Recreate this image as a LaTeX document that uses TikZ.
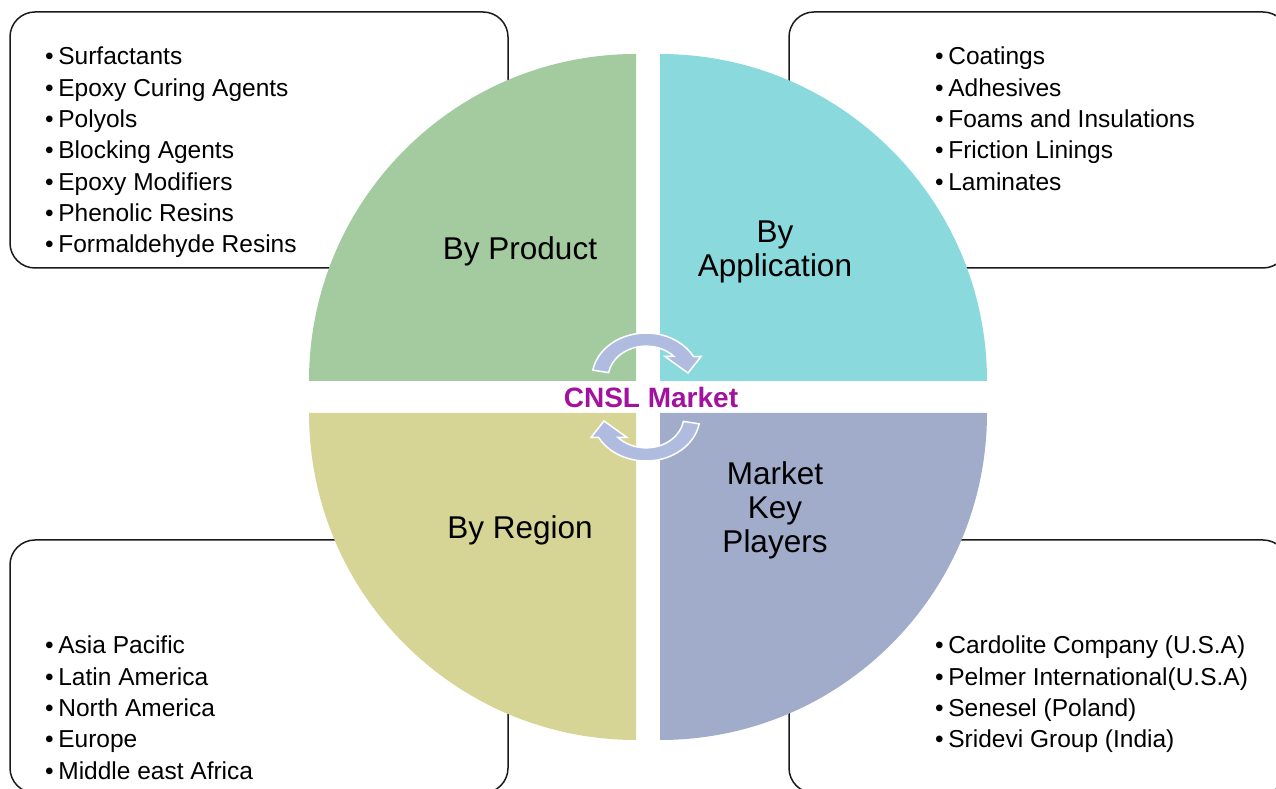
\documentclass[tikz,border=0pt]{standalone}
\usepackage{fontspec}
\setmainfont{Liberation Sans}
\definecolor{qgreen}{HTML}{A3CB9F}
\definecolor{qcyan}{HTML}{89D9DD}
\definecolor{qolive}{HTML}{D7D596}
\definecolor{qblue}{HTML}{A1ACCB}
\definecolor{arrowblue}{HTML}{B0BBE0}
\definecolor{cnsl}{HTML}{A2129F}
\definecolor{boxline}{HTML}{1A1A1A}
\newcommand\itm{•\hspace{4.6pt}}
\begin{document}
\begin{tikzpicture}[x=1pt,y=1pt,
  listbox/.style={draw=boxline, line width=1.5pt, fill=white, rounded corners=25pt},
  listtext/.style={anchor=north west, inner sep=0pt, align=left, font=\fontsize{24.5}{31.3}\selectfont},
  quadlabel/.style={inner sep=0pt, align=center, font=\fontsize{31.5}{34}\selectfont},
  cyclearrow/.style={fill=arrowblue, draw=white, line width=1.5pt}]
\useasboundingbox (0,0) rectangle (1276,789);
\clip (0,0) rectangle (1276,789);
% list boxes
\draw[listbox] (10,521) rectangle (508,777);
\draw[listbox] (789,521) rectangle (1288,777);
\draw[listbox] (10,-4) rectangle (508,249);
\draw[listbox] (789,-4) rectangle (1288,249);
% quadrants
\fill[qgreen] (636,408) -- (309,408) arc[start angle=180, end angle=90, radius=327] -- cycle;
\fill[qcyan] (660,408) -- (660,735) arc[start angle=90, end angle=0, radius=327] -- cycle;
\fill[qolive] (636,376) -- (309,376) arc[start angle=180, end angle=270, radius=327] -- cycle;
\fill[qblue] (660,376) -- (987,376) arc[start angle=0, end angle=-90, radius=327] -- cycle;
% cycle arrows
\begin{scope}[shift={(646,411)}]
\path[cyclearrow] (170:54 and 45) arc[start angle=170, end angle=28.5, x radius=54, y radius=45]
  -- (55,21.5) -- (42,5) -- (19,21.5) -- (28,21.5)
  arc[start angle=42.6, end angle=170, x radius=38, y radius=32] -- cycle;
\end{scope}
\begin{scope}[shift={(646,373)}, rotate=180]
\path[cyclearrow] (170:54 and 45) arc[start angle=170, end angle=28.5, x radius=54, y radius=45]
  -- (55,21.5) -- (42,5) -- (19,21.5) -- (28,21.5)
  arc[start angle=42.6, end angle=170, x radius=38, y radius=32] -- cycle;
\end{scope}
% labels
\node[quadlabel] (product) at (520,538) {By Product};
\node[quadlabel] (application) at (775,537) {By\\Application};
\node[quadlabel] (region) at (520,259) {By Region};
\node[quadlabel] (players) at (775,279) {Market\\Key\\Players};
\node[inner sep=0pt, text=cnsl, font=\fontsize{28}{30}\selectfont\bfseries] (center) at (651,392) {CNSL Market};
% lists
\node[listtext] (prodlist) at (45,742) {\itm Surfactants\\\itm Epoxy Curing Agents\\\itm Polyols\\\itm Blocking Agents\\\itm Epoxy Modifiers\\\itm Phenolic Resins\\\itm Formaldehyde Resins};
\node[listtext] (applist) at (935,742) {\itm Coatings\\\itm Adhesives\\\itm Foams and Insulations\\\itm Friction Linings\\\itm Laminates};
\node[listtext] (reglist) at (45,153) {\itm Asia Pacific\\\itm Latin America\\\itm North America\\\itm Europe\\\itm Middle east Africa};
\node[listtext] (playlist) at (935,153) {\itm Cardolite Company (U.S.A)\\\itm Pelmer International(U.S.A)\\\itm Senesel (Poland)\\\itm Sridevi Group (India)};
\end{tikzpicture}
\end{document}
